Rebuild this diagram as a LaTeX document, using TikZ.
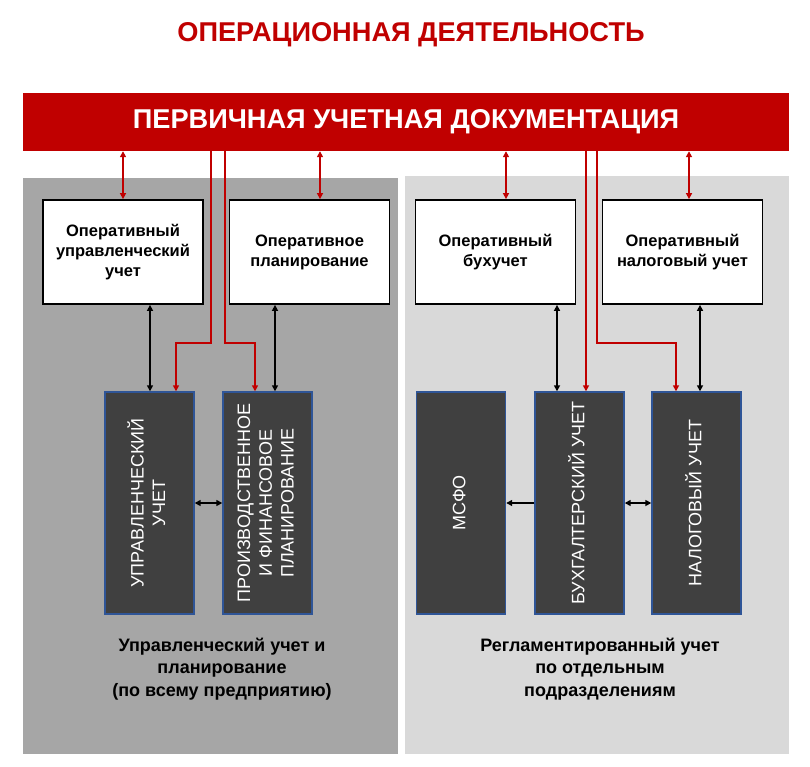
\documentclass[tikz,border=0pt]{standalone}
\usepackage{fontspec}
\setmainfont{Liberation Sans}
\usetikzlibrary{arrows.meta,calc}
\definecolor{myred}{HTML}{C00000}
\definecolor{darkbox}{HTML}{404040}
\definecolor{boxedge}{HTML}{2F5597}
\definecolor{panelL}{HTML}{A6A6A6}
\definecolor{panelR}{HTML}{D9D9D9}
\newcommand{\vtext}[1]{\rotatebox{90}{\begin{tabular}{@{}c@{}}#1\end{tabular}}}
\tikzset{
  whitebox/.style={draw=black, line width=1.8pt, fill=white, minimum width=160pt, minimum height=104pt, inner sep=0pt, align=center, font=\fontsize{16.5}{20}\selectfont\bfseries},
  darkbx/.style={draw=boxedge, line width=1.4pt, fill=darkbox, minimum width=89pt, minimum height=222pt, inner sep=0pt, text=white, font=\fontsize{18}{21.7}\selectfont},
  rarr/.style={draw=myred, line width=1.5pt, {Triangle[length=6pt,width=6pt]}-{Triangle[length=6pt,width=6pt]}},
  rline/.style={draw=myred, line width=1.5pt, -{Triangle[length=6pt,width=6pt]}},
  barr/.style={draw=black, line width=1.5pt, {Triangle[length=6pt,width=6pt]}-{Triangle[length=6pt,width=6pt]}},
  bline/.style={draw=black, line width=1.5pt, -{Triangle[length=6pt,width=6pt]}},
  caption/.style={align=center, font=\fontsize{18}{22.5}\selectfont\bfseries}
}
\begin{document}
\begin{tikzpicture}[x=1pt,y=-1pt]
\useasboundingbox (0,0) rectangle (810,767);
\fill[white] (0,0) rectangle (810,767);
% panels
\node[fill=panelL, minimum width=375pt, minimum height=576pt, inner sep=0pt, anchor=north west] (panL) at (23,178) {};
\node[fill=panelR, minimum width=384pt, minimum height=578pt, inner sep=0pt, anchor=north west] (panR) at (405,176) {};
% title
\node[text=myred, font=\fontsize{27.2}{30}\selectfont\bfseries] (title) at (411,35) {ОПЕРАЦИОННАЯ ДЕЯТЕЛЬНОСТЬ};
% bar
\node[fill=myred, minimum width=766pt, minimum height=58pt, inner sep=0pt] (bar) at (406,122) {};
\node[text=white, font=\fontsize{27.2}{32}\selectfont\bfseries] (bartext) at (406,122) {ПЕРВИЧНАЯ УЧЕТНАЯ ДОКУМЕНТАЦИЯ};
% white boxes
\node[whitebox] (w1) at (123,252) {Оперативный\\управленческий\\учет};
\node[whitebox] (w2) at (309.5,252) {Оперативное\\планирование};
\node[whitebox] (w3) at (495.5,252) {Оперативный\\бухучет};
\node[whitebox] (w4) at (682.5,252) {Оперативный\\налоговый учет};
% dark boxes
\node[darkbx] (d1) at (149.5,503) {\vtext{УПРАВЛЕНЧЕСКИЙ\\УЧЕТ}};
\node[darkbx] (d2) at (267.5,503) {\vtext{ПРОИЗВОДСТВЕННОЕ\\И ФИНАНСОВОЕ\\ПЛАНИРОВАНИЕ}};
\node[darkbx] (d3) at (461,503) {\vtext{МСФО}};
\node[darkbx] (d4) at (579.5,503) {\vtext{БУХГАЛТЕРСКИЙ УЧЕТ}};
\node[darkbx] (d5) at (696.5,503) {\vtext{НАЛОГОВЫЙ УЧЕТ}};
% captions
\node[caption] (capL) at (222,669) {Управленческий учет и\\планирование\\(по всему предприятию)};
\node[caption] (capR) at (600,669) {Регламентированный учет\\по отдельным\\подразделениям};
% red double arrows bar <-> white boxes
\draw[rarr] (bar.south -| w1.north) -- (w1.north);
\draw[rarr] (bar.south -| {$(w2.north)+(10.5,0)$}) -- ($(w2.north)+(10.5,0)$);
\draw[rarr] (bar.south -| {$(w3.north)+(10.5,0)$}) -- ($(w3.north)+(10.5,0)$);
\draw[rarr] (bar.south -| {$(w4.north)+(6.5,0)$}) -- ($(w4.north)+(6.5,0)$);
% black double arrows white <-> dark
\draw[barr] (w1.south -| {$(d1.north)+(0.5,0)$}) -- ($(d1.north)+(0.5,0)$);
\draw[barr] (w2.south -| {$(d2.north)+(7.5,0)$}) -- ($(d2.north)+(7.5,0)$);
\draw[barr] (w3.south -| {$(d4.north)+(-22.5,0)$}) -- ($(d4.north)+(-22.5,0)$);
\draw[barr] (w4.south -| {$(d5.north)+(3.5,0)$}) -- ($(d5.north)+(3.5,0)$);
% red routed lines
\coordinate (r1) at (211,0);
\coordinate (r2) at (225,0);
\coordinate (r3) at (586,0);
\coordinate (r4) at (597,0);
\coordinate (hy) at (0,343);
\draw[rline] (bar.south -| r1) -- (r1 |- hy) -| ($(d1.north)+(26.5,0)$);
\draw[rline] (bar.south -| r2) -- (r2 |- hy) -| ($(d2.north)+(-12.5,0)$);
\draw[rline] (bar.south -| r3) -- (r3 |- d4.north);
\draw[rline] (bar.south -| r4) -- (r4 |- hy) -| ($(d5.north)+(-20.5,0)$);
% horizontal arrows
\draw[barr] (d1.east) -- (d2.west);
\draw[bline] (d4.west) -- (d3.east);
\draw[barr] (d4.east) -- (d5.west);
\end{tikzpicture}
\end{document}
